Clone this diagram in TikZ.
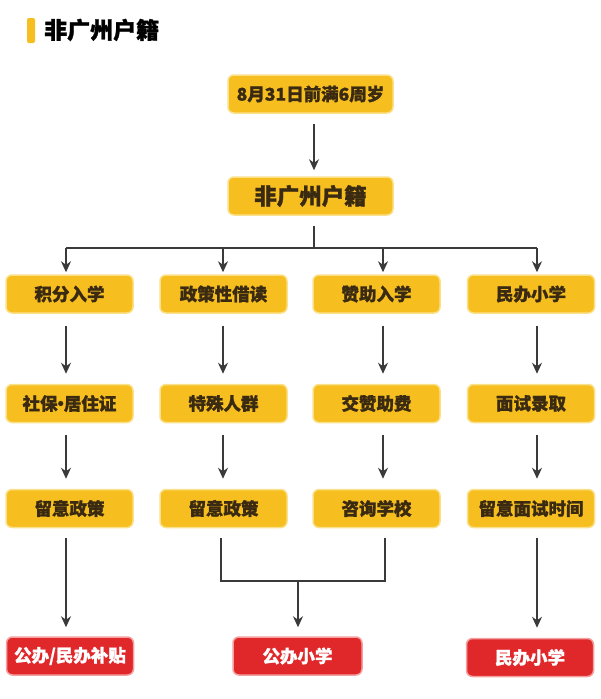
\documentclass[tikz,border=0pt]{standalone}
\usepackage{fontspec}
\newfontfamily\cjk[BoldFeatures={FakeBold=1.2}]{Noto Sans CJK SC}
\usetikzlibrary{arrows.meta}
\definecolor{boxyellow}{HTML}{F6BF1F}
\definecolor{glowyellow}{HTML}{FBE08A}
\definecolor{boxred}{HTML}{E0282B}
\definecolor{glowred}{HTML}{F5A0A0}
\definecolor{txtbrown}{HTML}{3B2A12}
\definecolor{linegray}{HTML}{3A3A3A}
\begin{document}
\begin{tikzpicture}[x=1pt,y=-1pt,
  ybox/.style={fill=boxyellow, draw=glowyellow, line width=1.5pt, rounded corners=6pt,
    minimum width=127pt, minimum height=38pt, inner sep=0pt,
    text=txtbrown, font=\cjk\bfseries\fontsize{17.5}{17.5}\selectfont},
  rbox/.style={fill=boxred, draw=glowred, line width=1.5pt, rounded corners=6pt,
    minimum width=127pt, minimum height=38pt, inner sep=0pt,
    text=white, font=\cjk\bfseries\fontsize{17.5}{17.5}\selectfont},
  arr/.style={draw=linegray, line width=1.3pt, -{Stealth[length=11pt,width=10pt]}},
  ln/.style={draw=linegray, line width=1.3pt}]
\useasboundingbox[fill=white] (0,0) rectangle (601,699);
% header
\fill[boxyellow, rounded corners=2pt] (27,18) rectangle (35,43);
\node[anchor=west, inner sep=0pt, font=\cjk\bfseries\fontsize{23}{23}\selectfont, text=black] (title) at (44,30) {非广州户籍};
% top boxes
\node[ybox, minimum width=165pt] (age) at (310.5,94) {8月31日前满6周岁};
\node[ybox, minimum width=165pt, font=\cjk\bfseries\fontsize{22.5}{22.5}\selectfont] (nong) at (310.5,196) {非广州户籍};
% column x positions of connectors
\coordinate (c1) at (66,0);
\coordinate (c2) at (223,0);
\coordinate (c3) at (383,0);
\coordinate (c4) at (537,0);
\coordinate (cm) at (314,0);
% row 1
\node[ybox] (a1) at (69.5,294) {积分入学};
\node[ybox] (b1) at (223.5,294) {政策性借读};
\node[ybox] (d1) at (376.5,294) {赞助入学};
\node[ybox] (e1) at (531,294) {民办小学};
% row 2
\node[ybox] (a2) at (69.5,403.5) {社保\kern-0.32em·\kern-0.32em居住证};
\node[ybox] (b2) at (223.5,403.5) {特殊人群};
\node[ybox] (d2) at (376.5,403.5) {交赞助费};
\node[ybox] (e2) at (531,403.5) {面试录取};
% row 3
\node[ybox] (a3) at (69.5,508.5) {留意政策};
\node[ybox] (b3) at (223.5,508.5) {留意政策};
\node[ybox] (d3) at (376.5,508.5) {咨询学校};
\node[ybox] (e3) at (531,508.5) {留意面试时间};
% results
\node[rbox] (ra) at (70,656) {公办/民办补贴};
\node[rbox, minimum width=129pt] (rb) at (297.5,656) {公办小学};
\node[rbox] (rc) at (530,657.5) {民办小学};
% connectors (yshift is in page coordinates: negative = down)
\draw[arr] ([yshift=-10pt]age.south -| cm) -- ([yshift=6pt]nong.north -| cm);
\coordinate (hb) at (314,248);
\draw[ln] ([yshift=-10pt]nong.south -| cm) -- (hb);
\draw[ln] (hb -| c1) -- (hb -| c4);
\foreach \c/\n in {c1/a1,c2/b1,c3/d1,c4/e1}{
  \draw[arr] (hb -| \c) -- ([yshift=2pt]\n.north -| \c);
}
\foreach \c/\u/\v in {c1/a1/a2,c2/b1/b2,c3/d1/d2,c4/e1/e2,c1/a2/a3,c2/b2/b3,c3/d2/d3,c4/e2/e3}{
  \draw[arr] ([yshift=-12pt]\u.south -| \c) -- ([yshift=10pt]\v.north -| \c);
}
\draw[arr] ([yshift=-10pt]a3.south -| c1) -- ([yshift=9pt]ra.north -| c1);
\draw[arr] ([yshift=-10pt]e3.south -| c4) -- ([yshift=10pt]rc.north -| c4);
\coordinate (jb) at (298,581);
\draw[ln] ([yshift=-10pt]b3.south -| 221,0) |- (jb) -| ([yshift=-10pt]d3.south -| 385,0);
\draw[arr] (jb) -- ([yshift=9pt]rb.north -| jb);
\end{tikzpicture}
\end{document}
